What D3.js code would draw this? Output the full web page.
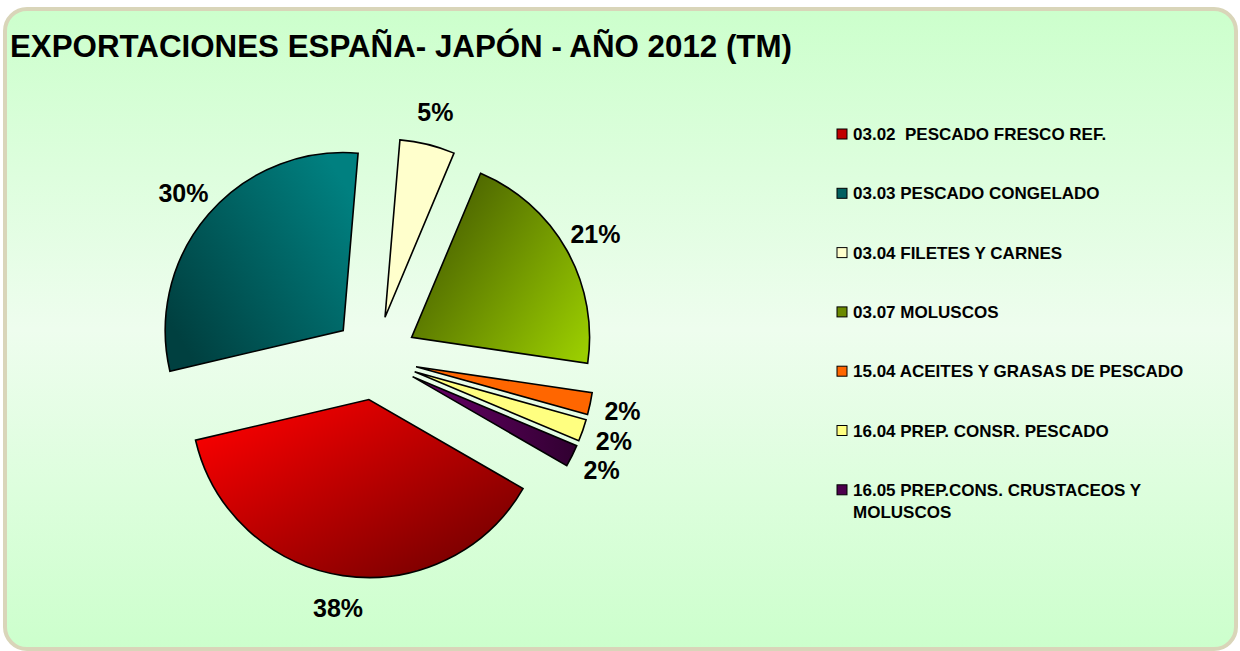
<!DOCTYPE html>
<html>
<head>
<meta charset="utf-8">
<script src="https://cdn.jsdelivr.net/npm/d3@7"></script>
<style>
  body { margin: 0; background: #ffffff; }
  text { font-family: "Liberation Sans", Arial, sans-serif; font-weight: bold; }
</style>
</head>
<body>
<script>
var width = 1240;
var height = 651;

var chartTitle = "EXPORTACIONES ESPAÑA- JAPÓN - AÑO 2012 (TM)";
var categories = [
    "03.02  PESCADO FRESCO REF.",
    "03.03 PESCADO CONGELADO",
    "03.04 FILETES Y CARNES",
    "03.07 MOLUSCOS",
    "15.04 ACEITES Y GRASAS DE PESCADO",
    "16.04 PREP. CONSR. PESCADO",
    "16.05 PREP.CONS. CRUSTACEOS Y MOLUSCOS"
];
var values = [38, 30, 5, 21, 2, 2, 2];

// fill for each slice: [start colour, end colour]
var sliceColors = [
    ["#ff0000", "#660000"],
    ["#004040", "#008080"],
    ["#ffffcc", "#ffffcc"],
    ["#4a6200", "#9acd00"],
    ["#ff6600", "#ff6600"],
    ["#ffff80", "#ffff80"],
    ["#6a006a", "#300030"]
];
var legendColors = ["#c00000", "#006060", "#ffffcc", "#6b8a00", "#ff6600", "#ffff80", "#4d004d"];

var cx = 375, cy = 358;
var radius = 178;
var explode = 42;
var labelRadius = 253;
var startAngle = 120 * Math.PI / 180;

var svg = d3.select("body").append("svg")
    .attr("width", width)
    .attr("height", height);

var defs = svg.append("defs");

var bg = defs.append("linearGradient")
    .attr("id", "bgGrad")
    .attr("x1", 0).attr("y1", 0).attr("x2", 0).attr("y2", 1);
bg.append("stop").attr("offset", "0").attr("stop-color", "#ccffcc");
bg.append("stop").attr("offset", "0.5").attr("stop-color", "#eefdee");
bg.append("stop").attr("offset", "1").attr("stop-color", "#ccffcc");

// gradient directions per slice
var gradDirs = [
    [0.05, 0.05, 1, 1],
    [0.0, 0.75, 0.9, 0.1],
    [0, 0, 1, 0],
    [0.1, 0.25, 1, 0.9],
    [0, 0, 1, 0],
    [0, 0, 1, 0],
    [0, 0, 1, 0]
];
sliceColors.forEach(function(c, i) {
    var g = defs.append("linearGradient")
        .attr("id", "slice_" + i)
        .attr("x1", gradDirs[i][0]).attr("y1", gradDirs[i][1])
        .attr("x2", gradDirs[i][2]).attr("y2", gradDirs[i][3]);
    g.append("stop").attr("offset", "0").attr("stop-color", c[0]);
    g.append("stop").attr("offset", "1").attr("stop-color", c[1]);
});

// chart area frame
svg.append("rect")
    .attr("x", 5)
    .attr("y", 9)
    .attr("width", 1231)
    .attr("height", 640)
    .attr("rx", 22)
    .attr("fill", "url(#bgGrad)")
    .attr("stroke", "#d9d5b9")
    .attr("stroke-width", 4);

svg.append("text")
    .attr("x", 10)
    .attr("y", 57)
    .attr("font-size", 31.3)
    .attr("fill", "#000")
    .text(chartTitle);

var pie = d3.pie()
    .sort(null)
    .startAngle(startAngle)
    .endAngle(startAngle + 2 * Math.PI)
    .value(function(d) { return d; });

var arc = d3.arc()
    .innerRadius(0)
    .outerRadius(radius);

var total = d3.sum(values);
var pct = d3.format(".0%");
var arcs = pie(values);

var pieGroup = svg.append("g")
    .attr("transform", "translate(" + cx + "," + cy + ")");

pieGroup.selectAll(".slice")
    .data(arcs)
    .enter().append("path")
    .attr("class", "slice")
    .attr("transform", function(d) {
        var a = (d.startAngle + d.endAngle) / 2;
        return "translate(" + (Math.sin(a) * explode) + "," + (-Math.cos(a) * explode) + ")";
    })
    .attr("d", arc)
    .attr("fill", function(d, i) { return "url(#slice_" + i + ")"; })
    .attr("stroke", "#000")
    .attr("stroke-width", 1.6)
    .attr("stroke-linejoin", "miter");

pieGroup.selectAll(".pctLabel")
    .data(arcs)
    .enter().append("text")
    .attr("class", "pctLabel")
    .attr("x", function(d) { return Math.sin((d.startAngle + d.endAngle) / 2) * labelRadius; })
    .attr("y", function(d) { return -Math.cos((d.startAngle + d.endAngle) / 2) * labelRadius; })
    .attr("text-anchor", "middle")
    .attr("dominant-baseline", "central")
    .attr("font-size", 25)
    .text(function(d) { return pct(d.value / total); });

// legend
var legendX = 837, legendY = 134, legendStep = 59.3;
var legend = svg.append("g");

var items = legend.selectAll(".item")
    .data(categories)
    .enter().append("g")
    .attr("class", "item")
    .attr("transform", function(d, i) { return "translate(" + legendX + "," + (legendY + i * legendStep) + ")"; });

items.append("rect")
    .attr("x", 0)
    .attr("y", -5)
    .attr("width", 10)
    .attr("height", 10)
    .attr("fill", function(d, i) { return legendColors[i]; })
    .attr("stroke", "#000")
    .attr("stroke-width", 1);

items.append("text")
    .attr("x", 16)
    .attr("y", 6)
    .attr("font-size", 17)
    .attr("fill", "#000")
    .each(function(d) {
        var t = d3.select(this);
        var lines = d.length > 34 ? [d.slice(0, d.lastIndexOf(" ")), d.slice(d.lastIndexOf(" ") + 1)] : [d];
        lines.forEach(function(line, j) {
            t.append("tspan")
                .attr("x", 16)
                .attr("dy", j === 0 ? 0 : 22.5)
                .attr("xml:space", "preserve")
                .text(line);
        });
    });
</script>
</body>
</html>
